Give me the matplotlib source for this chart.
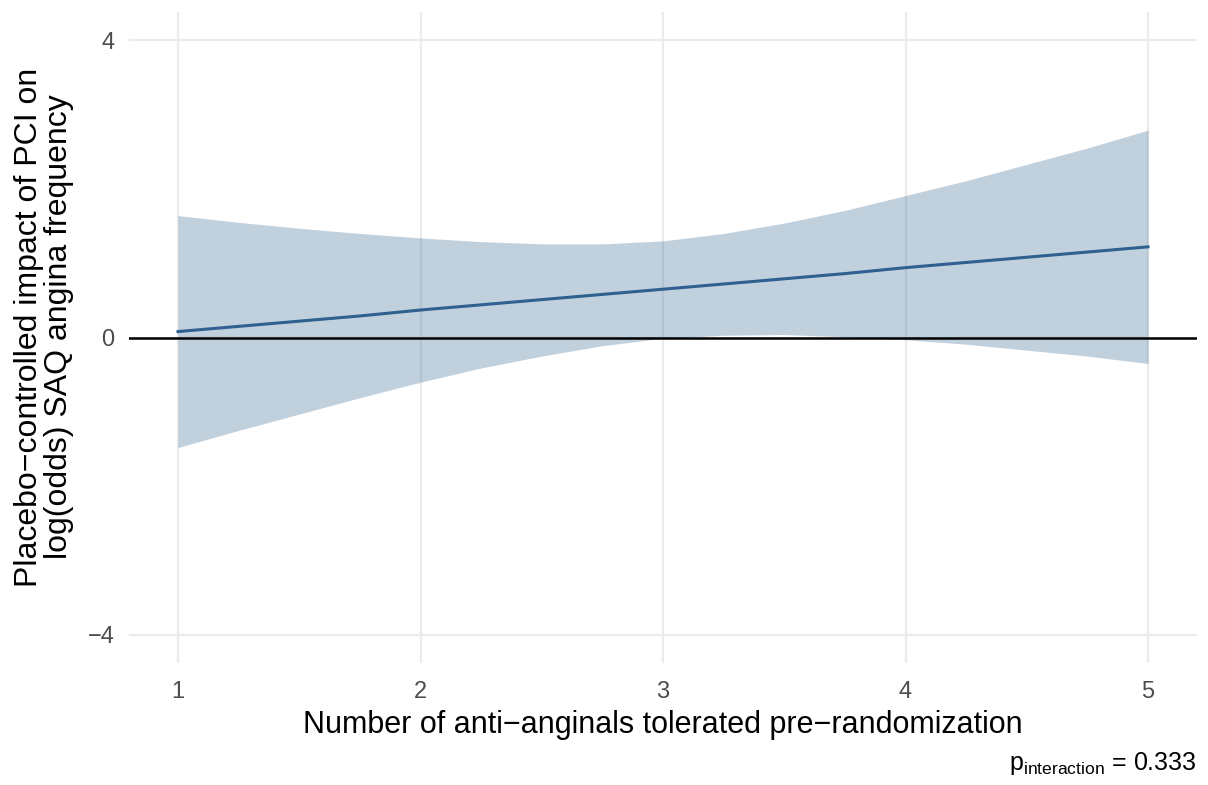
import matplotlib.pyplot as plt
import numpy as np

plt.rcParams['font.family'] = ['Liberation Sans', 'DejaVu Sans']

# readings from the reference (0.25 steps)
n_antianginals = [1, 1.25, 1.5, 1.75, 2, 2.25, 2.5, 2.75, 3,
                  3.25, 3.5, 3.75, 4, 4.25, 4.5, 4.75, 5]
effect = [0.08, 0.15, 0.22, 0.29, 0.37, 0.44, 0.51, 0.58, 0.65,
          0.72, 0.79, 0.86, 0.94, 1.01, 1.08, 1.15, 1.22]
ci_upper = [1.64, 1.55, 1.47, 1.40, 1.34, 1.29, 1.26, 1.26, 1.30,
            1.40, 1.54, 1.71, 1.91, 2.11, 2.33, 2.55, 2.79]
ci_lower = [-1.48, -1.25, -1.03, -0.81, -0.60, -0.41, -0.25, -0.11, -0.01,
            0.03, 0.04, 0.01, -0.03, -0.09, -0.17, -0.25, -0.35]
x_ticks = [1, 2, 3, 4, 5]
y_ticks = [-4, 0, 4]
y_ticklabels = ['\u22124', '0', '4']
p_interaction = 0.333

fig = plt.figure(figsize=(12.08, 7.85), dpi=100)
ax = fig.add_axes([0.1072, 0.1554, 0.8833, 0.8293])

ax.fill_between(n_antianginals, ci_lower, ci_upper, color='#33648f', alpha=0.3,
                lw=0, zorder=2)
ax.plot(n_antianginals, effect, color='#2e6090', lw=2.2, zorder=3)
ax.axhline(0, color='black', lw=1.8, zorder=4)

ax.set_xlim(0.8, 5.2)
ax.set_ylim(-4.38, 4.38)
ax.set_xticks(x_ticks)
ax.set_yticks(y_ticks)
ax.set_yticklabels(y_ticklabels)
ax.grid(True, color='#ebebeb', lw=1.6, zorder=0)
ax.set_axisbelow(True)
for s in ax.spines.values():
    s.set_visible(False)
ax.tick_params(length=0, labelsize=17, labelcolor='#4d4d4d')
ax.tick_params(axis='x', pad=13)
ax.tick_params(axis='y', pad=11)

ax.set_xlabel('Number of anti\u2212anginals tolerated pre\u2212randomization',
              fontsize=22, labelpad=5)
ax.set_ylabel('Placebo\u2212controlled impact of PCI on\nlog(odds) SAQ angina frequency',
              fontsize=23, linespacing=1.0)
ax.yaxis.set_label_coords(-0.052, 0.516)

fig.text(0.9905, 0.01, r'$\mathregular{p_{interaction}}$ = %.3f' % p_interaction,
         ha='right', va='bottom', fontsize=18)

fig.savefig('out.png', dpi=100)
